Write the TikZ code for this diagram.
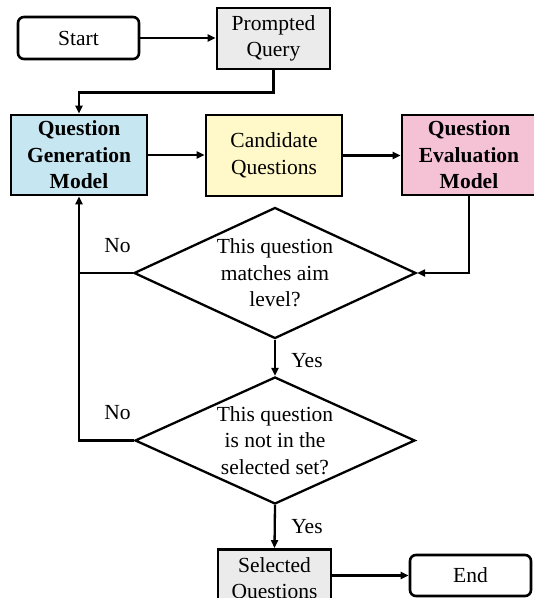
\documentclass[tikz,border=0pt]{standalone}
\usepackage{fontspec}
\setmainfont{Liberation Serif}
\usetikzlibrary{shapes.geometric,arrows.meta}

\definecolor{querygray}{HTML}{EBEBEB}
\definecolor{genblue}{HTML}{C6E6F2}
\definecolor{candyellow}{HTML}{FFF8C8}
\definecolor{evalpink}{HTML}{F5C1D4}

\tikzset{
  txt/.style={font=\fontsize{21.5}{26.5}\selectfont, align=center, inner sep=0pt},
  terminal/.style={txt, draw, line width=2.6pt, rounded corners=6pt},
  procbox/.style={txt, draw, line width=2.8pt},
  decision/.style={txt, draw, diamond, aspect=2.15, line width=2.3pt},
  lbl/.style={font=\fontsize{21.5}{26.5}\selectfont, inner sep=0pt},
  arr/.style={line width=2.3pt, -{Triangle[length=8pt,width=7pt]}},
  ln/.style={line width=2.3pt},
}

\begin{document}
\begin{tikzpicture}[x=1pt,y=-1pt]
\useasboundingbox (0,0) rectangle (534,598);

% process nodes
\node[terminal, minimum width=121pt, minimum height=42pt] (start) at (78.5,38) {Start};
\node[procbox, fill=querygray, minimum width=113pt, minimum height=61pt] (pq) at (273.5,38.5) {Prompted\\Query};
\node[procbox, fill=genblue, minimum width=136pt, minimum height=80pt, font=\fontsize{21.5}{26.5}\selectfont\bfseries] (qg) at (79,155) {Question\\Generation\\Model};
\node[procbox, fill=candyellow, minimum width=136pt, minimum height=81pt] (cq) at (274,155.5) {Candidate\\Questions};
\node[procbox, fill=evalpink, minimum width=134pt, minimum height=80pt, font=\fontsize{21.5}{26.5}\selectfont\bfseries] (qe) at (469,155) {Question\\Evaluation\\Model};

% decisions
\node[decision, minimum width=282pt, minimum height=131pt] (d1) at (275,273) {This question\\matches aim\\level?};
\node[decision, minimum width=280pt, minimum height=127pt] (d2) at (275,440.5) {This question\\is not in the\\selected set?};

% results
\node[procbox, fill=querygray, minimum width=113pt, minimum height=61pt] (sel) at (274.5,580) {Selected\\Questions};
\node[terminal, minimum width=121pt, minimum height=41pt] (end) at (470.5,575.5) {End};

% branch labels
\node[lbl] (no1) at (117.5,246) {No};
\node[lbl] (no2) at (117.5,413) {No};
\node[lbl] (yes1) at (307,361) {Yes};
\node[lbl] (yes2) at (307,527) {Yes};

% connectors
\draw[arr] (start.east) -- (start.east -| pq.west);
\draw[arr] (pq.south) -- ++(0,22) -| (qg.north);
\draw[arr] (qg.east) -- (qg.east -| cq.west);
\draw[arr] (cq.east) -- (cq.east -| qe.west);
\draw[arr] (qe.south) |- (d1.east);
\draw[ln] (d1.west) -- (d1.west -| qg.south);
\draw[arr] (d2.west) -| (qg.south);
\draw[arr] (d1.south) -- (d2.north);
\draw[arr] (d2.south) -- (sel.north);
\draw[arr] (end.west -| sel.east) -- (end.west);
\end{tikzpicture}
\end{document}
